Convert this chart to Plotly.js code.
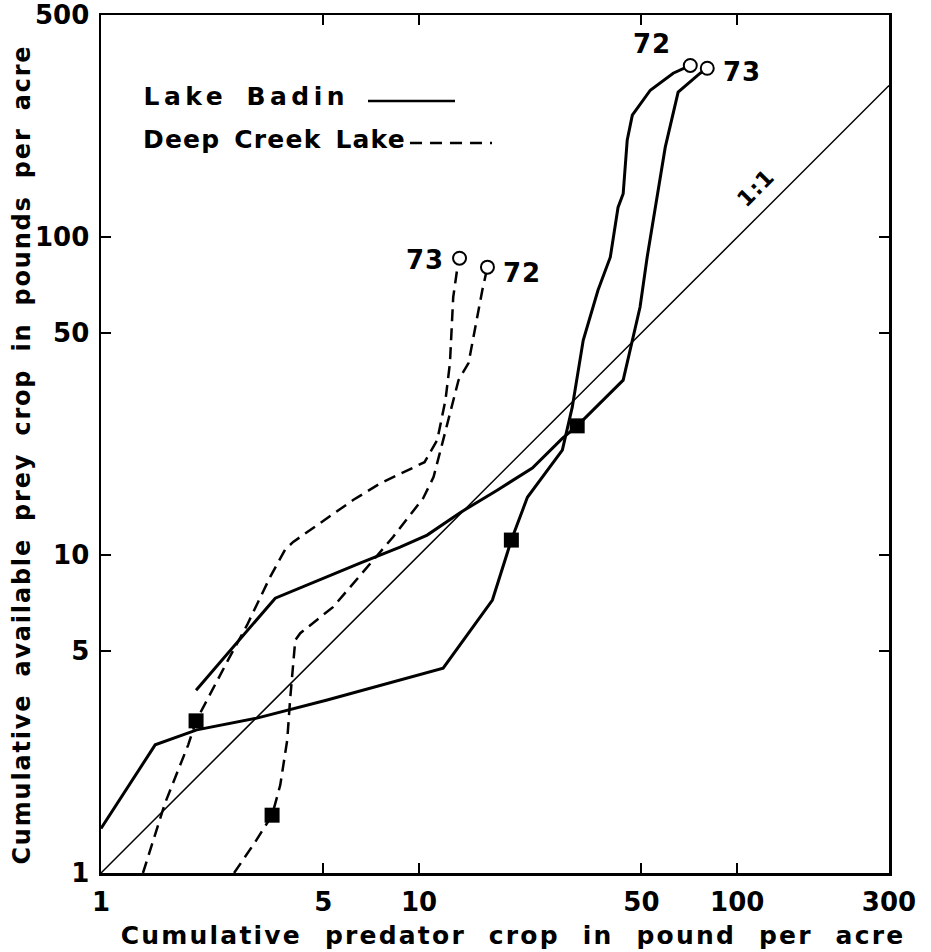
<!DOCTYPE html>
<html><head><meta charset="utf-8">
<script src="https://cdn.plot.ly/plotly-3.0.1.min.js"></script>
<style>
html,body{margin:0;padding:0;background:#fff;}
#chart{width:931px;height:952px;}
g.annotation text{letter-spacing:1px;}
g.annotation[data-index="0"] text{letter-spacing:2.2px;word-spacing:12px;}
g.annotation[data-index="1"] text{letter-spacing:1.8px;word-spacing:7px;}
g.annotation[data-index="2"] text{letter-spacing:4.5px;word-spacing:6px;}
g.annotation[data-index="3"] text{letter-spacing:1.2px;word-spacing:4px;}
</style></head><body><div id="chart"></div><script>
// Lake Badin (solid lines), cumulative predator crop (x) vs cumulative available prey crop (y), lb/acre
const badin72X = [1.00, 1.48, 2.00, 3.09, 5.14, 8.71, 11.9, 17.0, 19.5, 21.9, 28.2, 30.3, 32.8, 36.5, 39.9, 42.2, 43.8, 45.1, 46.8, 53.3, 62.9, 71.2];
const badin72Y = [1.38, 2.53, 2.82, 3.07, 3.50, 4.05, 4.41, 7.22, 11.15, 15.2, 21.4, 29.2, 47.4, 68.1, 86.5, 124, 137, 202, 242, 290, 328, 347];
const badin73X = [1.99, 3.53, 6.52, 8.71, 10.6, 13.45, 17.6, 22.7, 28.2, 31.4, 43.8, 46.8, 49.5, 52.1, 55.2, 59.4, 65.2, 76.5, 80.5];
const badin73Y = [3.76, 7.32, 9.44, 10.6, 11.56, 13.6, 16.0, 18.8, 23.3, 25.5, 35.5, 47.4, 60.3, 86.5, 124, 192, 286, 328, 340];
// Deep Creek Lake (dashed lines)
const deep73X = [1.355, 1.59, 1.88, 1.99, 2.51, 2.88, 3.40, 3.79, 4.02, 6.20, 7.54, 10.4, 11.4, 12.1, 12.5, 12.8, 13.2, 13.4];
const deep73Y = [1.0, 1.66, 2.53, 3.01, 4.68, 6.03, 8.53, 10.4, 11.0, 14.9, 16.8, 19.6, 23.0, 30.7, 40.2, 64.8, 80.5, 85.9];
const deep72X = [2.62, 3.05, 3.45, 3.66, 3.85, 3.93, 4.08, 4.23, 5.36, 6.86, 8.28, 10.3, 11.1, 11.9, 12.5, 13.3, 14.3, 15.8, 16.4];
const deep72Y = [1.0, 1.25, 1.52, 1.89, 2.62, 3.50, 5.40, 5.68, 6.86, 9.17, 11.4, 15.1, 17.6, 23.0, 28.0, 35.5, 40.2, 68.1, 80.5];
// filled squares on the curves
const squareX = [1.99, 3.45, 19.5, 31.4];
const squareY = [3.01, 1.52, 11.15, 25.5];
// 1:1 reference line
const oneToOne = [1, 300];
// tick labels
const xTickVals = [1, 5, 10, 50, 100, 300];
const xTickText = ['1', '5', '10', '50', '100', '300'];
const yTickVals = [1, 5, 10, 50, 100, 500];
const yTickText = ['1', '5', '10', '50', '100', '500'];
// texts
const xTitle = 'Cumulative predator crop in pound per acre';
const yTitle = 'Cumulative available prey crop in pounds per acre';
const seriesNames = ['Lake Badin', 'Deep Creek Lake'];
const yearLabels = ['72', '73', '73', '72'];

const FONT = 'DejaVu Sans';
const black = '#000';
const dash = '12px,7px';

const endX = [badin72X[badin72X.length-1], badin73X[badin73X.length-1], deep73X[deep73X.length-1], deep72X[deep72X.length-1]];
const endY = [badin72Y[badin72Y.length-1], badin73Y[badin73Y.length-1], deep73Y[deep73Y.length-1], deep72Y[deep72Y.length-1]];

const traces = [
  {x: oneToOne, y: oneToOne, mode: 'lines', line: {color: black, width: 1.5}},
  {x: badin72X, y: badin72Y, mode: 'lines', line: {color: black, width: 3}},
  {x: badin73X, y: badin73Y, mode: 'lines', line: {color: black, width: 3}},
  {x: deep73X, y: deep73Y, mode: 'lines', line: {color: black, width: 2.5, dash: dash}},
  {x: deep72X, y: deep72Y, mode: 'lines', line: {color: black, width: 2.5, dash: dash}},
  {x: squareX, y: squareY, mode: 'markers', marker: {symbol: 'square', size: 15, color: black}},
  {x: endX, y: endY, mode: 'markers', marker: {symbol: 'circle', size: 13, color: '#fff', line: {color: black, width: 2}}}
];

const L = 101, T = 15, W = 788, H = 858;
const px = v => (v - L) / W;
const py = v => (T + H - v) / H;
const tf = (s) => ({family: FONT, size: s, color: black, weight: 'bold'});
const ann = (text, x, y, size, extra) => Object.assign({
  text: text, x: px(x), y: py(y), xref: 'paper', yref: 'paper', showarrow: false,
  xanchor: 'center', yanchor: 'middle', font: tf(size)
}, extra || {});

const annotations = [
  ann(xTitle, 513, 936, 25),
  ann(yTitle, 22, 455, 24, {textangle: -90}),
  ann(seriesNames[0], 246, 97, 25),
  ann(seriesNames[1], 274, 139, 25),
  ann(yearLabels[0], 652, 44, 26),
  ann(yearLabels[1], 742, 72, 26),
  ann(yearLabels[2], 425, 260, 26),
  ann(yearLabels[3], 522, 273, 26),
  ann('1:1', 755, 188, 22, {textangle: -45})
];

const shapes = [
  {type: 'line', xref: 'paper', yref: 'paper', x0: px(368), x1: px(455), y0: py(101), y1: py(101), line: {color: black, width: 2.5}},
  {type: 'line', xref: 'paper', yref: 'paper', x0: px(410), x1: px(492), y0: py(143), y1: py(143), line: {color: black, width: 2.5, dash: '12px,8px'}}
];

const axisCommon = {
  type: 'log', showgrid: false, zeroline: false, showline: true, linecolor: black, linewidth: 2.5,
  mirror: 'ticks', ticks: 'inside', ticklen: 10, tickwidth: 2, tickcolor: black, tickfont: tf(26)
};

const layout = {
  width: 931, height: 952,
  margin: {l: L, r: 931 - L - W, t: T, b: 952 - T - H},
  paper_bgcolor: '#fff', plot_bgcolor: '#fff',
  showlegend: false, hovermode: false,
  xaxis: Object.assign({}, axisCommon, {range: [0, Math.log10(300)], tickmode: 'array', tickvals: xTickVals, ticktext: xTickText, ticklabelstandoff: 4}),
  yaxis: Object.assign({}, axisCommon, {range: [0, Math.log10(500)], tickmode: 'array', tickvals: yTickVals, ticktext: yTickText, ticklabelstandoff: 4}),
  annotations: annotations,
  shapes: shapes
};

Plotly.newPlot('chart', traces, layout, {displayModeBar: false, staticPlot: true});
</script></body></html>
